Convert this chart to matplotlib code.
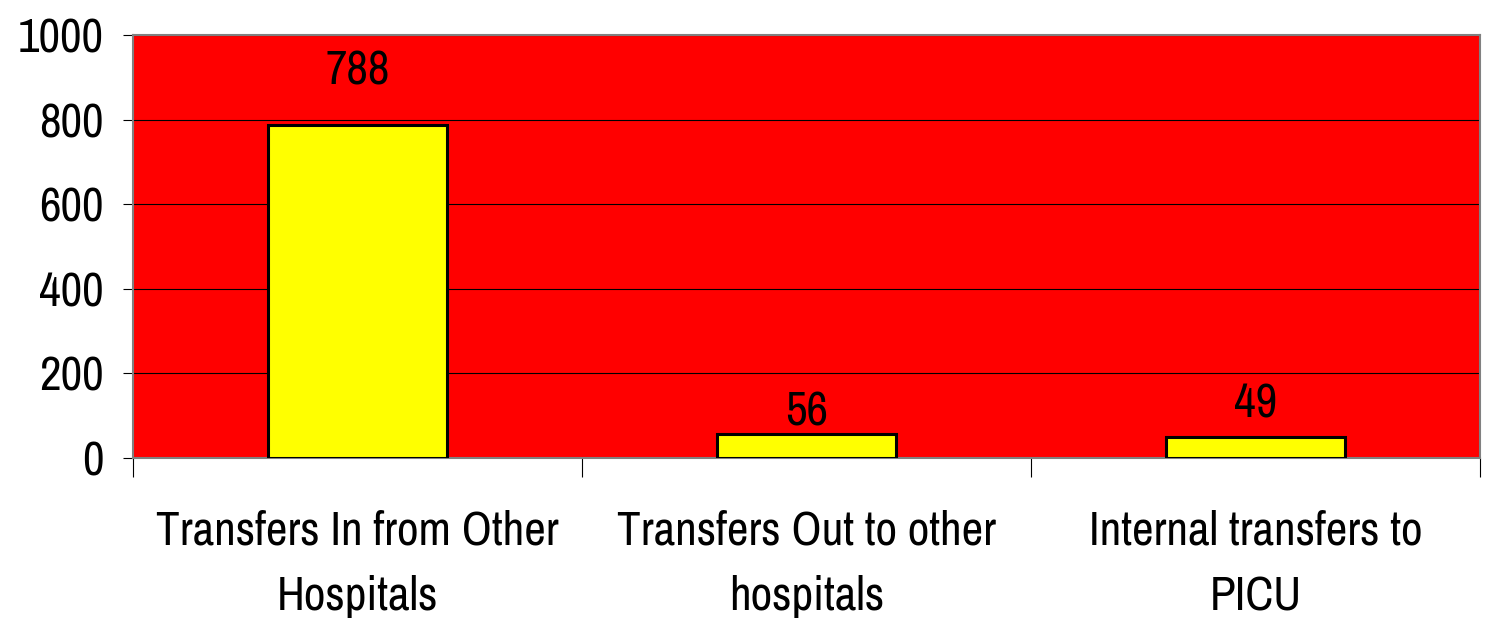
import matplotlib
matplotlib.use("Agg")
from matplotlib import pyplot as plt

## Data
categories = ["Transfers In from Other\nHospitals",
              "Transfers Out to other\nhospitals",
              "Internal transfers to\nPICU"]
values = [788, 56, 49]
yticks = [0, 200, 400, 600, 800, 1000]

# label offsets above each bar (points), as placed in the original
label_offsets = [29, 6, 14]

plt.rcParams['font.family'] = ['Archivo Narrow', 'DejaVu Sans']

fig = plt.figure(figsize=(14.86, 6.25), dpi=100)
ax = fig.add_axes([133/1486, 1 - 458/625, 1347/1486, 423/625])
ax.set_facecolor('#ff0000')

x = range(len(categories))
bars = ax.bar(x, values, width=0.4, color='#ffff00', edgecolor='black', linewidth=2.2, zorder=3)

for b, v, off in zip(bars, values, label_offsets):
    ax.annotate(str(v), (b.get_x() + b.get_width() / 2, v), xytext=(0, off),
                textcoords='offset points', ha='center', va='baseline', fontsize=34)

ax.set_xlim(-0.5, len(categories) - 0.5)
ax.set_ylim(0, 1000)
ax.set_yticks(yticks)
ax.tick_params(axis='y', labelsize=34, length=7, width=0.8, pad=14)
ax.yaxis.grid(True, color='black', linewidth=0.8, zorder=1)
ax.set_axisbelow(True)

ax.set_xticks(list(x))
ax.set_xticklabels(categories, fontsize=34, linespacing=1.65)
ax.tick_params(axis='x', length=0, pad=37)
ax.set_xticks([i - 0.5 for i in range(len(categories) + 1)], minor=True)
ax.tick_params(axis='x', which='minor', length=14, width=0.8)

for s in ax.spines.values():
    s.set_color('#808080')
    s.set_linewidth(1.5)

plt.savefig("out.png", dpi=100)
